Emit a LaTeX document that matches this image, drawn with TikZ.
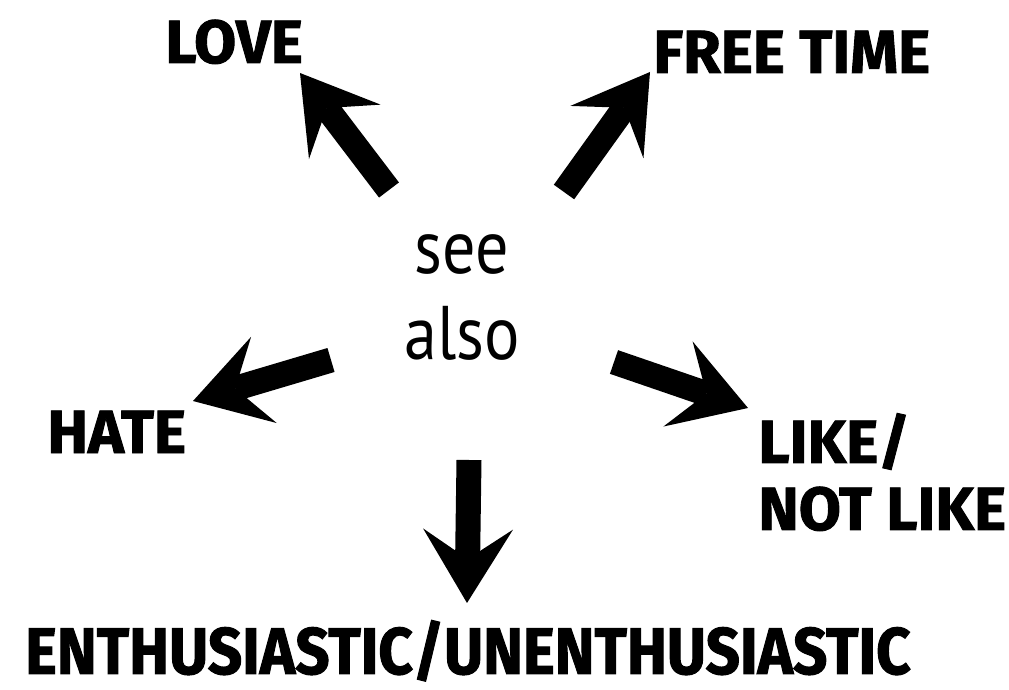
\documentclass[tikz,border=0pt]{standalone}
\usepackage{fontspec}
\newfontfamily\labelfont[BoldFeatures={FakeBold=1.5}]{Fira Sans}
\newfontfamily\longfont[FakeStretch=0.91,BoldFeatures={FakeBold=1.5}]{Fira Sans}
\newfontfamily\seefont[FakeStretch=0.87]{PT Sans}
\usetikzlibrary{arrows.meta}

\begin{document}
\begin{tikzpicture}[x=0.5pt, y=-0.5pt, line cap=butt, line join=miter,
  fat/.style={line width=12.5pt, -{Stealth[length=37pt,width=45pt,inset=15pt,line width=0pt]}},
  lbl/.style={inner sep=0pt, anchor=base west, align=left, text depth=0pt,
    font=\labelfont\bfseries\fontsize{30.5}{33.5}\selectfont}]
  \useasboundingbox (0,0) rectangle (1009,690);

  % arrow tails
  \coordinate (loveS) at (389,190);
  \coordinate (freeS) at (564,192);
  \coordinate (hateS) at (331,360);
  \coordinate (likeS) at (614,362);
  \coordinate (enthS) at (469,460);
  % arrow tips
  \coordinate (loveE) at (300,73);
  \coordinate (freeE) at (650,72);
  \coordinate (hateE) at (193,401);
  \coordinate (likeE) at (748,408);
  \coordinate (enthE) at (467,603);

  \node[inner sep=0pt, anchor=base, align=center,
    font=\seefont\fontsize{38}{43.5}\selectfont] (seealso) at (462,360) {see\\also};

  \node[lbl] (love) at (165,63) {LOVE};
  \node[lbl] (freetime) at (653,73) {FREE TIME};
  \node[lbl] (hate) at (47,453) {HATE};
  \node[lbl] (like) at (758,530) {LIKE/\\NOT LIKE};
  \node[inner sep=0pt, anchor=base, text depth=0pt,
    font=\longfont\bfseries\fontsize{33}{36}\selectfont] (enth) at (468,674) {ENTHUSIASTIC/UNENTHUSIASTIC};

  \draw[fat] (loveS) -- (loveE);
  \draw[fat] (freeS) -- (freeE);
  \draw[fat] (hateS) -- (hateE);
  \draw[fat] (likeS) -- (likeE);
  \draw[fat] (enthS) -- (enthE); % down to the long label
\end{tikzpicture}
\end{document}
